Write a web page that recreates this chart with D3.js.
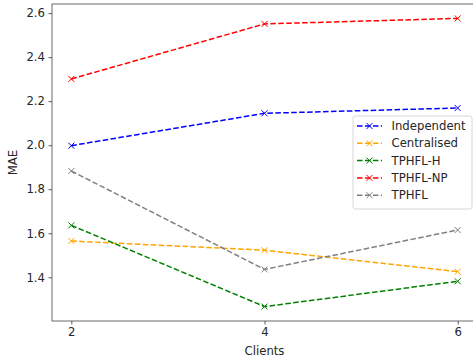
<!DOCTYPE html>
<html>
<head>
<meta charset="utf-8">
<script src="https://cdn.jsdelivr.net/npm/d3@7"></script>
<style>
  body { margin: 0; background: #fff; }
  svg { display: block; }
  text { font-family: "DejaVu Sans", sans-serif; fill: #262626; }
</style>
</head>
<body>
<div id="graphic"></div>
<script>
// clients on x, MAE on y
const clients = [2, 4, 6];
const seriesNames = ['Independent', 'Centralised', 'TPHFL-H', 'TPHFL-NP', 'TPHFL'];
const seriesColors = ['blue', 'orange', 'green', 'red', 'grey'];
const independent = [1.998, 2.145, 2.169];
const centralised = [1.565, 1.523, 1.426];
const tphflH = [1.636, 1.267, 1.382];
const tphflNP = [2.301, 2.551, 2.576];
const tphfl = [1.883, 1.436, 1.615];
const yTicks = [1.4, 1.6, 1.8, 2.0, 2.2, 2.4, 2.6];

(function () {
  var width = 473;
  var height = 360;
  var margin = { left: 52, top: 4, right: -4, bottom: 39 };
  var fontSize = '11.7px';

  var svg = d3.select('#graphic')
    .append('svg')
    .attr('width', width)
    .attr('height', height);

  var allSeries = [independent, centralised, tphflH, tphflNP, tphfl];

  // matplotlib-ish 5% margins
  var xPad = (d3.max(clients) - d3.min(clients)) * 0.05;
  var x = d3.scaleLinear()
    .domain([d3.min(clients) - xPad, d3.max(clients) + xPad])
    .range([margin.left, width - margin.right]);

  var yMin = d3.min(allSeries, s => d3.min(s));
  var yMax = d3.max(allSeries, s => d3.max(s));
  var yPad = (yMax - yMin) * 0.05;
  var y = d3.scaleLinear()
    .domain([yMin - yPad, yMax + yPad])
    .range([height - margin.bottom, margin.top]);

  var line = d3.line()
    .x((d, i) => x(clients[i]))
    .y(d => y(d));

  var plot = svg.append('g');

  allSeries.forEach((s, k) => {
    plot.append('path')
      .datum(s)
      .attr('d', line)
      .attr('fill', 'none')
      .attr('stroke', seriesColors[k])
      .attr('stroke-width', 1.5)
      .attr('stroke-dasharray', '5.55,2.4');

    plot.selectAll(null)
      .data(s)
      .enter().append('path')
      .attr('d', 'M-3,-3L3,3M-3,3L3,-3')
      .attr('transform', (d, i) => 'translate(' + x(clients[i]) + ',' + y(d) + ')')
      .attr('stroke', seriesColors[k])
      .attr('stroke-width', 1);
  });

  // axes
  var xAxis = svg.append('g')
    .attr('transform', 'translate(0,' + (height - margin.bottom) + ')')
    .call(d3.axisBottom(x).tickValues(clients).tickSize(3.5).tickPadding(3.5).tickFormat(d3.format('d')));

  var yAxis = svg.append('g')
    .attr('transform', 'translate(' + margin.left + ',0)')
    .call(d3.axisLeft(y).tickValues(yTicks).tickSize(3.5).tickPadding(3.5).tickFormat(d3.format('.1f')));

  [xAxis, yAxis].forEach(a => {
    a.selectAll('text').style('font-size', fontSize).style('font-family', '"DejaVu Sans", sans-serif').attr('fill', '#262626');
    a.selectAll('line').attr('stroke', '#333').attr('stroke-width', 0.8);
    a.select('.domain').remove();
  });

  // spines
  svg.append('rect')
    .attr('x', margin.left)
    .attr('y', margin.top)
    .attr('width', width - margin.right - margin.left)
    .attr('height', height - margin.bottom - margin.top)
    .attr('fill', 'none')
    .attr('stroke', '#444')
    .attr('stroke-width', 0.8);

  svg.append('text')
    .attr('x', x(4))
    .attr('y', 355)
    .attr('text-anchor', 'middle')
    .style('font-size', fontSize)
    .text('Clients');

  svg.append('text')
    .attr('transform', 'translate(17,' + ((margin.top + height - margin.bottom) / 2) + ') rotate(-90)')
    .attr('text-anchor', 'middle')
    .style('font-size', fontSize)
    .text('MAE');

  // legend
  var legend = svg.append('g').attr('transform', 'translate(353,116)');
  legend.append('rect')
    .attr('width', 119)
    .attr('height', 93)
    .attr('rx', 2.5)
    .attr('fill', 'white')
    .attr('fill-opacity', 0.8)
    .attr('stroke', '#cccccc')
    .attr('stroke-width', 0.8);

  var items = legend.selectAll('g.item')
    .data(seriesNames)
    .enter().append('g')
    .attr('class', 'item')
    .attr('transform', (d, i) => 'translate(0,' + (10 + i * 17.3) + ')');

  items.append('line')
    .attr('x1', 4).attr('x2', 29)
    .attr('stroke', (d, i) => seriesColors[i])
    .attr('stroke-width', 1.5)
    .attr('stroke-dasharray', '5.55,2.4');

  items.append('path')
    .attr('d', 'M13.5,-3L19.5,3M13.5,3L19.5,-3')
    .attr('stroke', (d, i) => seriesColors[i])
    .attr('stroke-width', 1);

  items.append('text')
    .attr('x', 38.5)
    .attr('dy', '0.35em')
    .style('font-size', fontSize)
    .text(d => d);
})()
</script>
</body>
</html>
